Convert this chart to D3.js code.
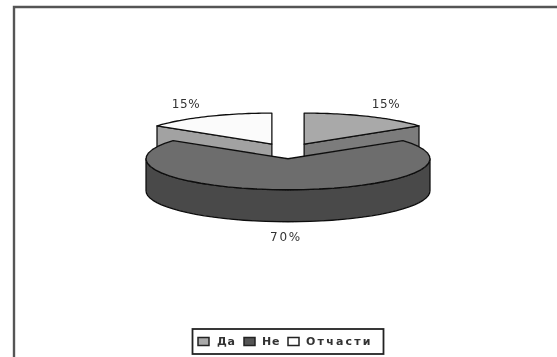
<!DOCTYPE html>
<html><head><meta charset="utf-8">
<script src="https://cdn.jsdelivr.net/npm/d3@7"></script>
<style>html,body{margin:0;padding:0;background:#fff}svg{display:block}text{font-family:"DejaVu Sans",sans-serif;fill:#333}</style>
</head><body><svg width="557" height="357"></svg>
<script>
const categories = ["Да","Не","Отчасти"];
const values = [15,70,15];
const labels = ["15%","70%","15%"];
const topColors = ["#a9a9a9","#6d6d6d","#fbfbfb"];
const sideColors = ["#7b7b7b","#484848","#a2a2a2"];
const swatchColors = ["#a9a9a9","#555555","#ffffff"];

const svg = d3.select("svg");
const defs = svg.append("defs");
defs.append("filter").attr("id","soft").attr("filterUnits","userSpaceOnUse").attr("x",0).attr("y",0).attr("width",557).attr("height",357)
  .append("feGaussianBlur").attr("stdDeviation",0.65);
const root = svg.append("g").attr("filter","url(#soft)");

root.append("path").attr("d","M14,357V7H557").attr("fill","none").attr("stroke","#555").attr("stroke-width",2.4);

const cx=288, cy=151, rx=142, ry=31, depth=32, explode=0.25;
const arcs = d3.pie().sort(null).value(d=>d)(values);
const pt=(a,ox,oy,dz=0)=>[cx+ox+rx*Math.sin(a), cy+oy-ry*Math.cos(a)+dz];
const line=d3.line();
const samples=(a0,a1)=>d3.range(0,41).map(i=>a0+(a1-a0)*i/40);
const edge="#111";

const slices = arcs.map((d,i)=>{
  const mid=(d.startAngle+d.endAngle)/2;
  return {...d,i,ox:explode*rx*Math.sin(mid),oy:-explode*ry*Math.cos(mid)};
});
// painter's order: back slices first, large front slice last
[2,0,1].forEach(i=>{
  const s=slices[i], a0=s.startAngle, a1=s.endAngle;
  const apex=[cx+s.ox,cy+s.oy], down=[apex[0],apex[1]+depth];
  const g=root.append("g").attr("stroke",edge).attr("stroke-width",1.3).attr("stroke-linejoin","round");
  if(i===1){
    const rim=samples(Math.PI/2,3*Math.PI/2);
    const poly=rim.map(a=>pt(a,s.ox,s.oy)).concat(rim.slice().reverse().map(a=>pt(a,s.ox,s.oy,depth)));
    g.append("path").attr("d",line(poly)+"Z").attr("fill",sideColors[i]);
  } else {
    const a=i===0?a1:a0, p=pt(a,s.ox,s.oy), q=[p[0],p[1]+depth];
    g.append("path").attr("d",line([apex,p,q,down])+"Z").attr("fill",sideColors[i]);
  }
  const surf=[apex].concat(samples(a0,a1).map(a=>pt(a,s.ox,s.oy)));
  g.append("path").attr("d",line(surf)+"Z").attr("fill",topColors[i]);
});

const labelPos=[[386,108],[286,241],[186,108]];
const labelGap=[0.6,1.8,0.6];
labels.forEach((t,i)=>root.append("text").attr("x",labelPos[i][0]).attr("y",labelPos[i][1])
  .attr("text-anchor","middle").attr("font-size",12).attr("letter-spacing",labelGap[i]).text(t));

const lg=root.append("g");
lg.append("rect").attr("x",192.5).attr("y",329).attr("width",191).attr("height",25)
  .attr("fill","#fff").attr("stroke","#222").attr("stroke-width",1.8);
const swatchX=[198,244,288], textX=[217,262,306], textGap=[0.8,0.8,2.2];
categories.forEach((c,i)=>{
  lg.append("rect").attr("x",swatchX[i]).attr("y",337.5).attr("width",11).attr("height",8)
    .attr("fill",swatchColors[i]).attr("stroke","#222").attr("stroke-width",1.5);
  lg.append("text").attr("x",textX[i]).attr("y",345).attr("font-size",11)
    .attr("font-weight","bold").attr("letter-spacing",textGap[i]).text(c);
});
</script></body></html>
